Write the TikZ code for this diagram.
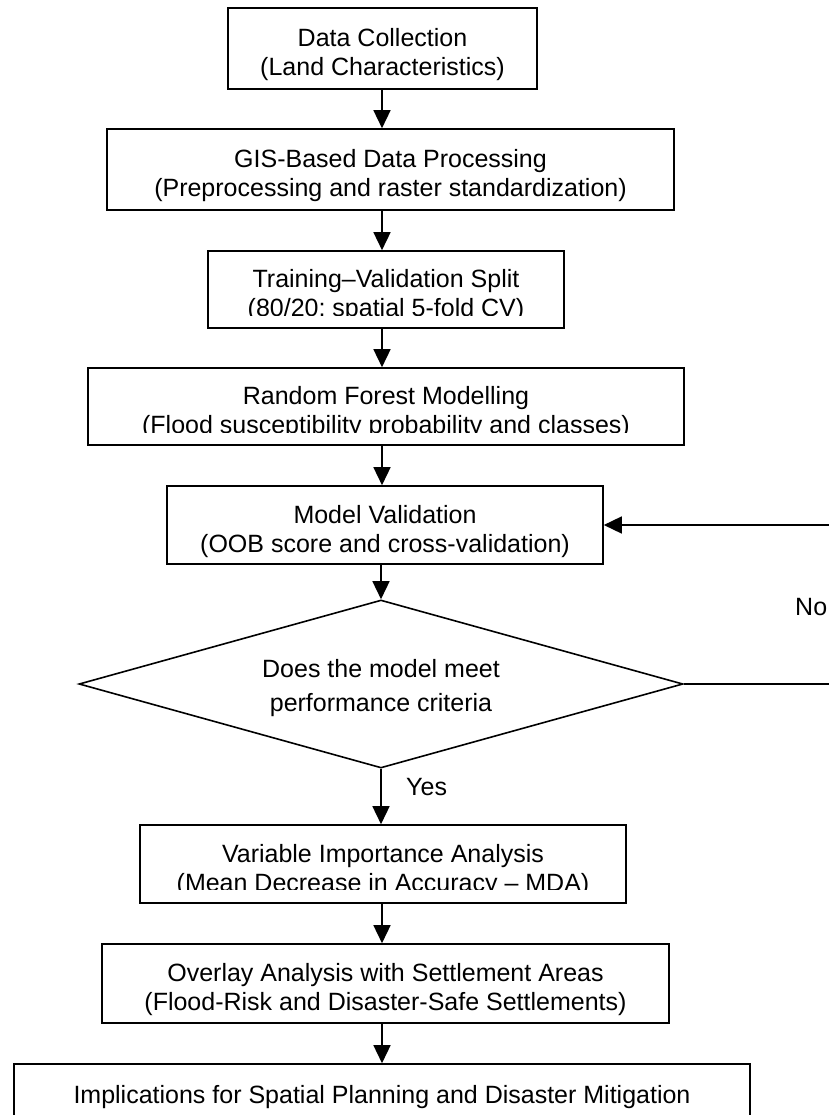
\documentclass[tikz,border=0pt]{standalone}
\usepackage{fontspec}
\setmainfont{Liberation Sans}
\usetikzlibrary{arrows.meta,shapes.geometric}
\newlength\cutwd
% a text line whose glyphs are clipped just above the baseline (as in the reference)
\newcommand\cutline[1]{\settowidth\cutwd{#1}\begin{tikzpicture}[baseline=0pt,x=1pt,y=1pt]
\useasboundingbox (0pt,0pt) rectangle (\cutwd,20pt);
\clip (-2pt,1.3pt) rectangle (\cutwd+2pt,40pt);
\node[anchor=base west,inner sep=0pt,outer sep=0pt,draw=none,fill=none,minimum width=0pt,minimum height=0pt,shape=rectangle] at (0pt,0pt) {#1};
\end{tikzpicture}}
\newcommand\hiStrut{\rule{0pt}{31pt}}
\newcommand\loStrut{\rule[-6pt]{0pt}{6pt}}
\begin{document}
\begin{tikzpicture}[x=1pt,y=-1pt,
  txt/.style={font=\fontsize{25}{29}\selectfont},
  box/.style={txt,draw=black,line width=1.6pt,inner sep=0pt,align=center,rectangle},
  dia/.style={txt,draw=black,line width=1.6pt,inner sep=0pt,align=center,diamond,aspect=3.6},
  lbl/.style={txt,inner sep=0pt},
  arr/.style={line width=1.5pt,-{Triangle[length=18pt,width=17pt]}}]
\useasboundingbox[fill=white] (0,0) rectangle (828,1115);
\coordinate (ax) at (382,0);

\node[box,minimum width=309pt,minimum height=81pt] (b1) at (382.5,48.5)
  {\hiStrut Data Collection\\(Land Characteristics)\loStrut};
\node[box,minimum width=567pt,minimum height=81pt] (b2) at (390.5,169.5)
  {\hiStrut GIS-Based Data Processing\\(Preprocessing and raster standardization)\loStrut};
\node[box,minimum width=356pt,minimum height=77pt] (b3) at (386,289.5)
  {\hiStrut Training–Validation Split\\\cutline{(80/20; spatial 5-fold CV)}\loStrut};
\node[box,minimum width=596pt,minimum height=77pt] (b4) at (386,406.5)
  {\hiStrut Random Forest Modelling\\\cutline{(Flood susceptibility probability and classes)}\loStrut};
\node[box,minimum width=436pt,minimum height=78pt] (b5) at (385,525)
  {\hiStrut Model Validation\\(OOB score and cross-validation)\loStrut};
\node[dia,minimum width=604pt,minimum height=168pt] (d) at (381,684)
  {\rule{0pt}{26pt}Does the model meet\\[5pt]performance criteria\loStrut};
\node[box,minimum width=486pt,minimum height=78pt] (b6) at (383,864)
  {\hiStrut Variable Importance Analysis\\\cutline{(Mean Decrease in Accuracy – MDA)}\loStrut};
\node[box,minimum width=567pt,minimum height=79pt] (b7) at (385.5,983.5)
  {\hiStrut Overlay Analysis with Settlement Areas\\(Flood-Risk and Disaster-Safe Settlements)\loStrut};
\node[box,minimum width=736pt,minimum height=66pt] (b8) at (382,1097)
  {Implications for Spatial Planning and Disaster Mitigation};

\node[lbl,anchor=base west] (yes) at (406,795) {Yes};
\node[lbl,anchor=base west] (no) at (795,615) {No};

\draw[arr] (ax |- b1.south) -- (ax |- b2.north);
\draw[arr] (ax |- b2.south) -- (ax |- b3.north);
\draw[arr] (ax |- b3.south) -- (ax |- b4.north);
\draw[arr] (ax |- b4.south) -- (ax |- b5.north);
\draw[arr] (d.north |- b5.south) -- (d.north);
\draw[arr] (d.south) -- (d.south |- b6.north);
\draw[arr] (ax |- b6.south) -- (ax |- b7.north);
\draw[arr] (ax |- b7.south) -- (ax |- b8.north);
\draw[arr] (d.east) -- ++(200,0) |- (b5.east);
\end{tikzpicture}
\end{document}
